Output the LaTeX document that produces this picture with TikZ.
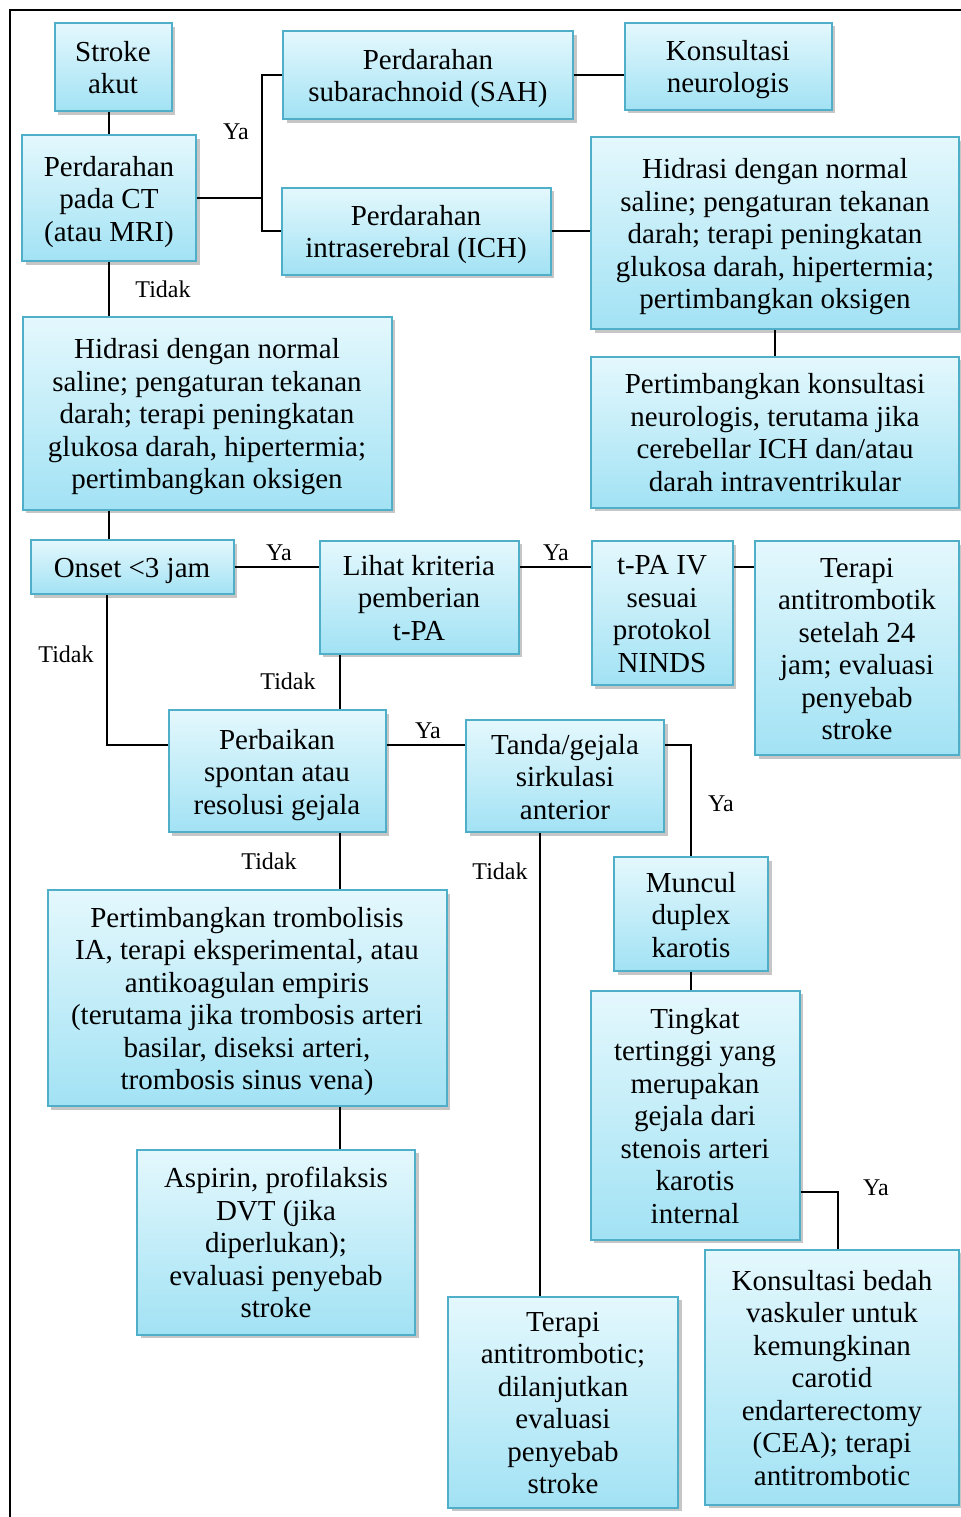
\documentclass[tikz,border=0pt]{standalone}
\usepackage{fontspec}
\setmainfont{Liberation Serif}
\usepackage{tikz}
\usepackage{xcolor}
\usetikzlibrary{shadows}
\definecolor{boxtop}{HTML}{E4F8FD}
\definecolor{boxbot}{HTML}{A2E2F4}
\definecolor{boxline}{HTML}{4FAFC8}

\begin{document}
\begin{tikzpicture}[x=0.5pt,y=-0.5pt,
box/.style 2 args={draw=boxline,line width=1pt,top color=boxtop,bottom color=boxbot,
 drop shadow={shadow xshift=1.8pt,shadow yshift=-1.8pt,opacity=0.45},
 align=flush center,inner xsep=2pt,inner ysep=0pt,text width=#1*0.5pt-4pt,
 minimum width=#1*0.5pt,minimum height=#2*0.5pt,
 font=\fontsize{14.5}{16.25}\selectfont,
 execute at begin node=\rule{0pt}{15.5pt},execute at end node=\rule[-5pt]{0pt}{5pt}},
lbl/.style={font=\fontsize{12}{14}\selectfont,inner sep=0pt},
link/.style={line width=1pt}]
\useasboundingbox (0,0) rectangle (961,1517);
\draw[line width=1.2pt](10,1517)--(10,10)--(961,10);
\node[box={117}{88}] (stroke) at (113,67) {Stroke\\akut};
\node[box={290}{88}] (sah) at (428,75) {Perdarahan\\subarachnoid (SAH)};
\node[box={207}{87}] (konsul) at (728,66) {Konsultasi\\neurologis};
\node[box={174}{126}] (ct) at (109,198) {Perdarahan\\pada CT\\(atau MRI)};
\node[box={269}{87}] (ich) at (416,231) {Perdarahan\\intraserebral (ICH)};
\node[box={368}{192}] (hidrasiR) at (775,233) {Hidrasi dengan normal\\saline; pengaturan tekanan\\darah; terapi peningkatan\\glukosa darah, hipertermia;\\pertimbangkan oksigen};
\node[box={368}{151}] (neuro) at (775,432) {Pertimbangkan konsultasi\\neurologis, terutama jika\\cerebellar ICH dan/atau\\darah intraventrikular};
\node[box={369}{193}] (hidrasiL) at (207,413) {Hidrasi dengan normal\\saline; pengaturan tekanan\\darah; terapi peningkatan\\glukosa darah, hipertermia;\\pertimbangkan oksigen};
\node[box={203}{54}] (onset) at (132,567) {Onset <3 jam};
\node[box={199}{113}] (kriteria) at (419,597) {Lihat kriteria\\pemberian\\t-PA};
\node[box={141}{144}] (tpa) at (662,613) {t-PA IV\\sesuai\\protokol\\NINDS};
\node[box={204}{214}] (anti24) at (857,648) {Terapi\\antitrombotik\\setelah 24\\jam; evaluasi\\penyebab\\stroke};
\node[box={217}{122}] (perbaikan) at (277,771) {Perbaikan\\spontan atau\\resolusi gejala};
\node[box={198}{112}] (anterior) at (565,776) {Tanda/gejala\\sirkulasi\\anterior};
\node[box={154}{114}] (duplex) at (691,914) {Muncul\\duplex\\karotis};
\node[box={399}{216}] (trombolisis) at (247,998) {Pertimbangkan trombolisis\\IA, terapi eksperimental, atau\\antikoagulan empiris\\(terutama jika trombosis arteri\\basilar, diseksi arteri,\\trombosis sinus vena)};
\node[box={209}{249}] (stenosis) at (695,1115) {Tingkat\\tertinggi yang\\merupakan\\gejala dari\\stenois arteri\\karotis\\internal};
\node[box={278}{185}] (aspirin) at (276,1242) {Aspirin, profilaksis\\DVT (jika\\diperlukan);\\evaluasi penyebab\\stroke};
\node[box={230}{211}] (antiAT) at (563,1402) {Terapi\\antitrombotic;\\dilanjutkan\\evaluasi\\penyebab\\stroke};
\node[box={254}{255}] (bedah) at (832,1377) {Konsultasi bedah\\vaskuler untuk\\kemungkinan\\carotid\\endarterectomy\\(CEA); terapi\\antitrombotic};
\coordinate (jA) at (262,198);
\coordinate (jB) at (107,745);
\coordinate (jC) at (340,0);
\coordinate (jD) at (540,0);
\coordinate (jE) at (838,1192);
\draw[link](ct.north)--(ct.north|-stroke.south)
(ct.east)--(jA)
(sah.west)-|(jA)|-(ich.west)
(sah.east)--(sah.east-|konsul.west)
(ich.east)--(ich.east-|hidrasiR.west)
(hidrasiR.south)--(neuro.north)
(ct.south)--(ct.south|-hidrasiL.north)
(hidrasiL.south-|ct.south)--(onset.north-|ct.south)
(onset.east)--(kriteria.west|-onset.east)
(kriteria.east|-onset.east)--(tpa.west|-onset.east)
(tpa.east|-onset.east)--(anti24.west|-onset.east)
(onset.south-|jB)--(jB)--(jB-|perbaikan.west)
(kriteria.south-|jC)--(perbaikan.north-|jC)
(perbaikan.east|-jB)--(anterior.west|-jB)
(anterior.east|-jB)-|(duplex.north)
(anterior.south-|jD)--(antiAT.north-|jD)
(perbaikan.south-|jC)--(trombolisis.north-|jC)
(trombolisis.south-|jC)--(aspirin.north-|jC)
(duplex.south)--(duplex.south|-stenosis.north)
(jE-|stenosis.east)--(jE)--(jE|-bedah.north);
\node[lbl] (ya1) at (236,132) {Ya};
\node[lbl] (tidak1) at (163,289) {Tidak};
\node[lbl] (ya2) at (279,553) {Ya};
\node[lbl] (ya3) at (556,553) {Ya};
\node[lbl] (tidak2) at (66,654) {Tidak};
\node[lbl] (tidak3) at (288,681) {Tidak};
\node[lbl] (ya4) at (428,731) {Ya};
\node[lbl] (ya5) at (721,804) {Ya};
\node[lbl] (tidak4) at (269,861) {Tidak};
\node[lbl] (tidak5) at (500,871) {Tidak};
\node[lbl] (ya6) at (876,1188) {Ya};
\end{tikzpicture}
\end{document}
